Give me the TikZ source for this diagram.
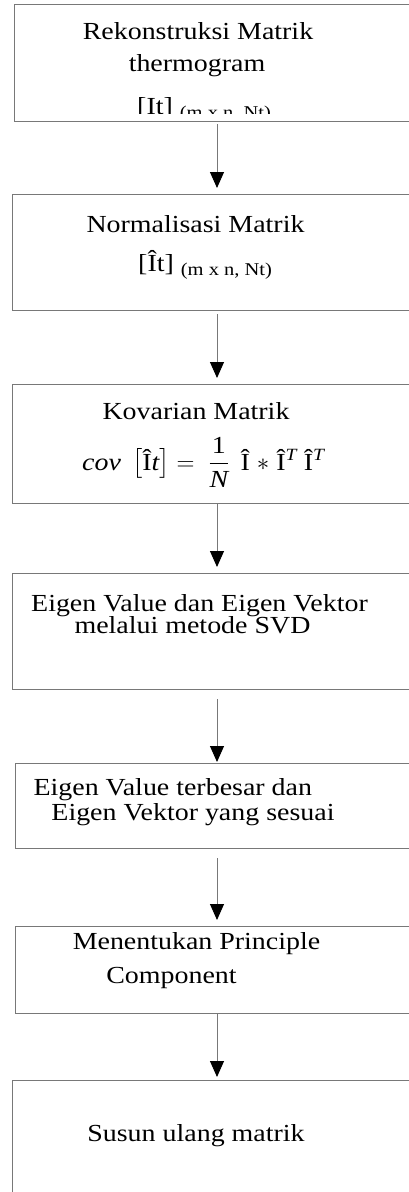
\documentclass[tikz,border=0pt]{standalone}
\usepackage{fontspec}
\usepackage{amsmath}
\setmainfont{Liberation Serif}[FakeStretch=1.14]
\usetikzlibrary{arrows.meta}
\definecolor{linegray}{RGB}{120,120,120}
\newcommand{\subsz}[1]{{\fontsize{18pt}{20pt}\selectfont\raisebox{-4pt}{#1}}}
\begin{document}
\begin{tikzpicture}[x=1pt,y=-1pt,
  box/.style={draw=linegray, line width=1pt, rectangle, inner sep=0pt, anchor=north west},
  txt/.style={anchor=base, inner sep=0pt, font=\fontsize{24.5pt}{29pt}\selectfont},
  txtw/.style={anchor=base west, inner sep=0pt, font=\fontsize{24.5pt}{29pt}\selectfont},
  flow/.style={draw=linegray, line width=1pt, -{Triangle[length=16pt,width=14pt,color=black]}}]
\useasboundingbox (0,0) rectangle (409,1192);
\clip (0,0) rectangle (409,1192);
% boxes
\node[box, minimum width=405pt, minimum height=117pt] (b1) at (14,4) {};
\node[box, minimum width=409pt, minimum height=116pt] (b2) at (12,194) {};
\node[box, minimum width=409pt, minimum height=119pt] (b3) at (12,384) {};
\node[box, minimum width=409pt, minimum height=116pt] (b4) at (12,573) {};
\node[box, minimum width=403pt, minimum height=85pt] (b5) at (15,763) {};
\node[box, minimum width=403pt, minimum height=87pt] (b6) at (15,926) {};
\node[box, minimum width=409pt, minimum height=130pt] (b7) at (12,1080) {};
% box 1 text (clipped)
\begin{scope}
\clip (14,4) rectangle (420,113.5);
\node[txt] (t1a) at (198,39) {Rekonstruksi Matrik};
\node[txt] (t1b) at (197,71.7) {thermogram};
\node[txtw] (t1c) at (137,114) {[It] \subsz{(m x n, Nt)}};
\end{scope}
% box 2
\node[txt] (t2a) at (195.5,232) {Normalisasi Matrik};
\node[txtw] (t2b) at (138,271) {[Ît] \subsz{(m x n, Nt)}};
% box 3
\node[txt] (t3a) at (196,419) {Kovarian Matrik};
\node[txtw] (t3b) at (82,470) {\textit{cov}\, $\left[\text{Î}\textit{t}\right] =\;\dfrac{\text{1}}{\textit{N}}$\, Î $\ast$\ Î$^{\textit{T}}$ Î$^{\textit{T}}$};
% box 4
\node[txt] (t4a) at (199.5,611) {Eigen Value dan Eigen Vektor};
\node[txt] (t4b) at (192.5,633.3) {melalui metode SVD};
% box 5
\node[txt] (t5a) at (172.8,795) {Eigen Value terbesar dan};
\node[txt] (t5b) at (193,820.7) {Eigen Vektor yang sesuai};
% box 6
\node[txt] (t6a) at (196.5,949) {Menentukan Principle};
\node[txt] (t6b) at (171.5,983) {Component};
% box 7
\node[txt] (t7a) at (196,1141.7) {Susun ulang matrik};
% arrows
\draw[flow, shorten <=2pt, shorten >=6pt] (b1.south) -- (b2.north);
\draw[flow, shorten <=3pt, shorten >=6pt] (b2.south) -- (b3.north);
\draw[flow, shorten >=6pt] (b3.south) -- (b4.north);
\draw[flow, shorten <=9pt, shorten >=1pt] (b4.south) -- (b5.north);
\draw[flow, shorten <=9pt, shorten >=6pt] (b5.south) -- (b6.north);
\draw[flow, shorten >=3pt] (b6.south) -- (b7.north);
\end{tikzpicture}
\end{document}
